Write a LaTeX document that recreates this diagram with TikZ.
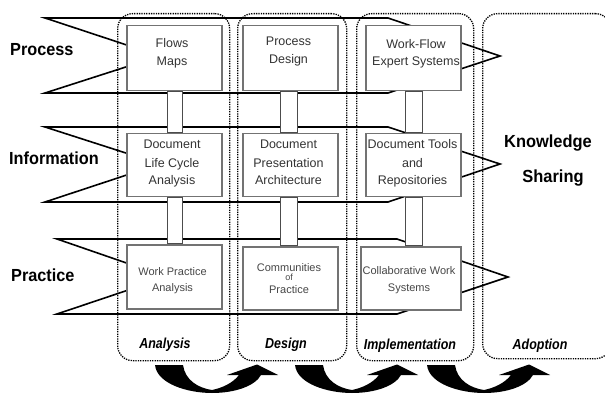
\documentclass[tikz,border=0pt]{standalone}
\usepackage{fontspec}
\setmainfont{Liberation Sans}
\usetikzlibrary{calc}
\pgfdeclarelayer{bandlayer}
\pgfdeclarelayer{barlayer}
\pgfsetlayers{bandlayer,barlayer,main}
\newcommand{\narrowtxt}[2]{\scalebox{#1}[1]{#2}}
\begin{document}
\begin{tikzpicture}[x=1pt,y=-1pt,
  band/.style={draw=black, line width=1.6pt, line join=miter},
  stepbox/.style={draw=black!55, fill=white, line width=1.5pt, inner sep=0pt, anchor=north west},
  bar/.style={draw=black!70, fill=white, line width=1.1pt},
  col/.style={draw=black, line width=1.3pt, dash pattern=on 1.3pt off 1.1pt, rounded corners=15pt, inner sep=0pt, anchor=north west},
  btxt/.style={anchor=base, inner sep=0pt, text=black!80, font=\fontsize{12.5}{15}\selectfont},
  ptxt/.style={anchor=base, inner sep=0pt, text=black!72, font=\fontsize{11}{13}\selectfont},
  otxt/.style={anchor=base, inner sep=0pt, text=black!72, font=\fontsize{9}{10}\selectfont},
  rowlab/.style={anchor=base west, inner sep=0pt, font=\fontsize{17.5}{20}\selectfont\bfseries},
  biglab/.style={anchor=base, inner sep=0pt, font=\fontsize{17.5}{20}\selectfont\bfseries},
  collab/.style={anchor=base, inner sep=0pt, font=\fontsize{14.5}{16}\selectfont\bfseries\itshape}
]
\useasboundingbox (0,0) rectangle (605,398);
\clip (0,0) rectangle (605,398);

% dotted phase columns
\node[col, minimum width=112pt, minimum height=347pt] (colA) at (117,13) {};
\node[col, minimum width=109pt, minimum height=347pt] (colD) at (237,13) {};
\node[col, minimum width=117pt, minimum height=347pt] (colI) at (356,13) {};
\node[col, minimum width=128pt, minimum height=345pt] (colO) at (482,13) {};

% bands (arrows)
\begin{pgfonlayer}{bandlayer}
\draw[band] (45,18) -- (388,18) -- (500,56) -- (388,93) -- (45,93) -- (160,56) -- cycle;
\draw[band] (45,127) -- (388,127) -- (500,164) -- (388,202) -- (45,202) -- (160,164) -- cycle;
\draw[band] (57,239) -- (397,239) -- (508,277) -- (397,314) -- (57,314) -- (167,277) -- cycle;
\end{pgfonlayer}

% boxes
\node[stepbox, minimum width=95pt, minimum height=65pt] (b11) at (126,25) {};
\node[stepbox, minimum width=95pt, minimum height=65pt] (b12) at (242,25) {};
\node[stepbox, minimum width=95pt, minimum height=65pt] (b13) at (365,25) {};
\node[stepbox, minimum width=95pt, minimum height=63pt] (b21) at (126,133) {};
\node[stepbox, minimum width=95pt, minimum height=63pt] (b22) at (242,133) {};
\node[stepbox, minimum width=95pt, minimum height=63pt] (b23) at (365,133) {};
\node[stepbox, minimum width=95pt, minimum height=64pt] (b31) at (126,244) {};
\node[stepbox, minimum width=95pt, minimum height=63pt] (b32) at (242,246) {};
\node[stepbox, minimum width=100pt, minimum height=63pt] (b33) at (360,246) {};

% connecting bars
\begin{pgfonlayer}{barlayer}
\path[bar] ($(b11.south)+(-6.5,0)$) rectangle ($(b11.south |- b21.north)+(8.5,0)$);
\path[bar] ($(b21.south)+(-6.5,0)$) rectangle ($(b21.south |- b31.north)+(8.5,0)$);
\path[bar] ($(b12.south)+(-9.5,0)$) rectangle ($(b12.south |- b22.north)+(7.5,0)$);
\path[bar] ($(b22.south)+(-9.5,0)$) rectangle ($(b22.south |- b32.north)+(7.5,0)$);
\path[bar] ($(b13.south)+(-7.5,0)$) rectangle ($(b13.south |- b23.north)+(9.5,0)$);
\path[bar] ($(b23.south)+(-7.5,0)$) rectangle ($(b23.south |- b33.north)+(9.5,0)$);
\end{pgfonlayer}

% box texts
\node[btxt] (t11a) at (172,47.7) {Flows};
\node[btxt] (t11b) at (172,65.7) {Maps};
\node[btxt] (t12a) at (288.5,45.7) {Process};
\node[btxt] (t12b) at (288.5,63.3) {Design};
\node[btxt] (t13a) at (416,48.3) {Work-Flow};
\node[btxt] (t13b) at (416,65.7) {Expert Systems};
\node[btxt] (t21a) at (172,149) {Document};
\node[btxt] (t21b) at (172,167.7) {Life Cycle};
\node[btxt] (t21c) at (172,185) {Analysis};
\node[btxt] (t22a) at (288.5,149) {Document};
\node[btxt] (t22b) at (288.5,167.7) {Presentation};
\node[btxt] (t22c) at (288.5,185) {Architecture};
\node[btxt] (t23a) at (412.5,149) {Document Tools};
\node[btxt] (t23b) at (412.5,167.7) {and};
\node[btxt] (t23c) at (412.5,185) {Repositories};
\node[ptxt] (t31a) at (172.5,275) {Work Practice};
\node[ptxt] (t31b) at (172.5,291.7) {Analysis};
\node[ptxt] (t32a) at (289,271.7) {Communities};
\node[otxt] (t32b) at (289,280.5) {of};
\node[ptxt] (t32c) at (289,293.3) {Practice};
\node[ptxt] (t33a) at (409,274) {Collaborative Work};
\node[ptxt] (t33b) at (409,291) {Systems};

% row labels
\node[rowlab] (rP) at (10,56) {\narrowtxt{0.93}{Process}};
\node[rowlab] (rI) at (9,165) {\narrowtxt{0.93}{Information}};
\node[rowlab] (rR) at (11,281) {\narrowtxt{0.93}{Practice}};

% knowledge sharing
\node[biglab] (ks1) at (548,148) {\narrowtxt{0.94}{Knowledge}};
\node[biglab] (ks2) at (553,183) {\narrowtxt{0.94}{Sharing}};

% column labels
\node[collab] (lA) at (165,348) {\narrowtxt{0.86}{Analysis}};
\node[collab] (lD) at (286,348) {\narrowtxt{0.86}{Design}};
\node[collab] (lI) at (410,349) {\narrowtxt{0.86}{Implementation}};
\node[collab] (lO) at (540,349) {\narrowtxt{0.86}{Adoption}};

% curved transition arrows
\foreach \dx in {0,140,272} {
  \fill[black, shift={(\dx,0)}] (155,365) .. controls (157,384) and (188,393) .. (212,393)
    .. controls (235,393) and (255,386) .. (261,375)
    -- (278,375) -- (257,364.5) -- (227,375) -- (239,375)
    .. controls (233,383) and (222,388) .. (212,390)
    .. controls (198,388) and (185,380) .. (183,365) -- cycle;
}
\end{tikzpicture}
\end{document}
